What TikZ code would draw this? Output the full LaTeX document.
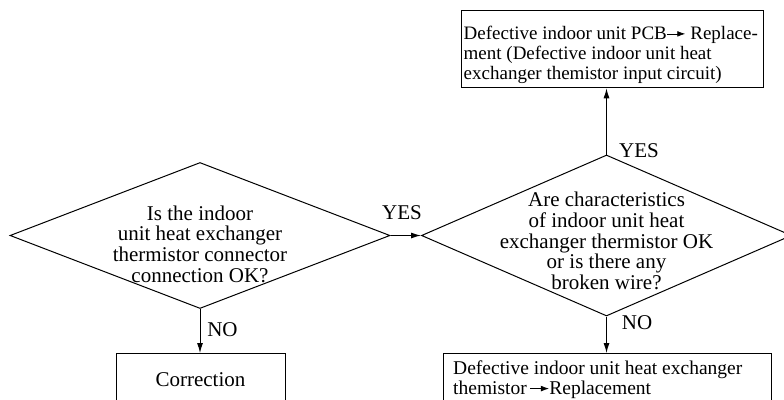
\documentclass[tikz,border=0pt]{standalone}
\usepackage{fontspec}
\setmainfont{Liberation Serif}
\usetikzlibrary{shapes.geometric,arrows.meta}
\newcommand{\rarr}{\tikz[baseline=-0.3em]\draw[line width=0.7pt,-{Latex[length=0.42em,width=0.3em]}] (0,0) -- (0.95em,0);}
\begin{document}
\begin{tikzpicture}[x=1pt,y=-1pt, line width=1pt,
  dia/.style={draw, diamond, inner sep=0pt},
  frame/.style={draw, rectangle, inner sep=0pt},
  dtxt/.style={align=center, font=\fontsize{21}{20.75}\selectfont, inner sep=0pt},
  btxt/.style={align=left, font=\fontsize{19.5}{20}\selectfont, inner sep=0pt},
  lbl/.style={font=\fontsize{21}{21}\selectfont, inner sep=0pt},
  arr/.style={-{Latex[length=10pt,width=6pt]}}]
\clip (0,0) rectangle (784,399);
% decisions
\node[dia, minimum width=380, minimum height=146] (d1) at (200,235.5) {};
\node[dia, minimum width=370, minimum height=161] (d2) at (606.5,235.5) {};
\node[dtxt] (t1) at (200,244) {Is the indoor\\unit heat exchanger\\thermistor connector\\connection OK?};
\node[dtxt] (t2) at (606.5,241) {Are characteristics\\of indoor unit heat\\exchanger thermistor OK\\or is there any\\broken wire?};
% boxes
\node[frame, minimum width=302, minimum height=77.3, anchor=north west] (b1) at (461,10) {};
\node[btxt, anchor=north west, font=\fontsize{19}{20}\selectfont] (t3) at (463.5,26) {Defective indoor unit PCB\rarr{} Replace-\\ment (Defective indoor unit heat\\exchanger themistor input circuit)};
\node[frame, minimum width=169, minimum height=52, anchor=north, font=\fontsize{21}{21}\selectfont] (b2) at (200.5,353) {Correction};
\node[frame, minimum width=328, minimum height=60, anchor=north west] (b3) at (442.7,353) {};
\node[btxt, anchor=north west] (t5) at (453,360.5) {Defective indoor unit heat exchanger\\themistor\,\rarr{}Replacement};
% connectors
\draw[arr] (d1.east) -- (d2.west);
\draw[arr] (d2.north) -- (d2.north |- b1.south);
\draw[arr] (d1.south) -- (d1.south |- b2.north);
\draw[arr] (d2.south) -- (d2.south |- b3.north);
% labels
\node[lbl] (l1) at (402,212.5) {YES};
\node[lbl] (l2) at (639,151) {YES};
\node[lbl] (l3) at (222.5,330) {NO};
\node[lbl] (l4) at (637,323) {NO};
\end{tikzpicture}
\end{document}
